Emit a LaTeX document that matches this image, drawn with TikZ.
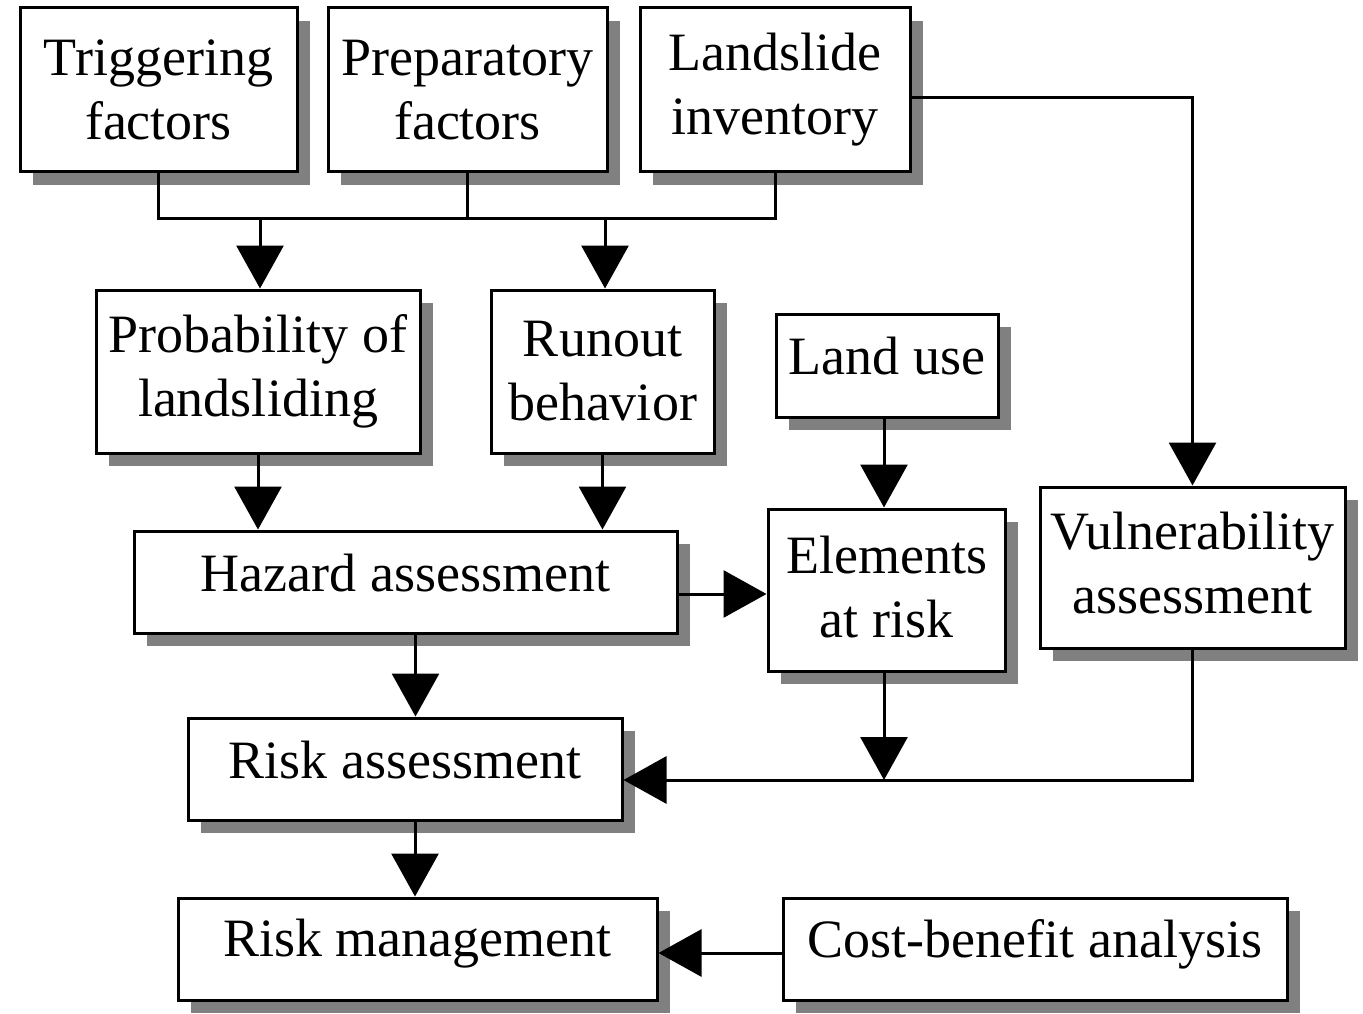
\documentclass[tikz,border=0pt]{standalone}
\usepackage{fontspec}
\setmainfont{Liberation Serif}
\usetikzlibrary{arrows.meta,shadows}
\newcommand\bigfs{\fontsize{54}{64}\selectfont}
\newcommand\liftup[2]{\raisebox{#1}[\height][\depth]{#2}}
\begin{document}
\begin{tikzpicture}[x=1pt,y=-1pt,
  box/.style={draw, line width=3pt, fill=white, align=center, inner sep=0pt, font=\bigfs,
    drop shadow={shadow xshift=13pt, shadow yshift=-13pt, fill=black!50, opacity=1}},
  conn/.style={line width=3pt},
  arr/.style={line width=3pt, -{Triangle[length=43pt 0 0,width=47pt 0]}}]
\fill[white] (0,0) rectangle (1363,1014);
\useasboundingbox (0,0) rectangle (1363,1014);
\node[box, minimum width=277pt, minimum height=164pt] (trig) at (158.5,90) {Triggering\\factors};
\node[box, minimum width=279pt, minimum height=164pt] (prep) at (467.5,90) {Preparatory\\factors};
\node[box, minimum width=270pt, minimum height=164pt] (inv) at (775,90) {Landslide\\inventory};
\node[box, minimum width=324pt, minimum height=163pt] (prob) at (258,371.5) {Probability of\\landsliding};
\node[box, minimum width=223pt, minimum height=163pt] (run) at (602.5,371.5) {Runout\\behavior};
\node[box, minimum width=222pt, minimum height=103pt] (land) at (887,365.5) {\liftup{9pt}{Land use}};
\node[box, minimum width=543pt, minimum height=102pt] (haz) at (405.5,582) {\liftup{9pt}{Hazard assessment}};
\node[box, minimum width=237pt, minimum height=162pt] (elem) at (886.5,590) {\liftup{3pt}{Elements}\\\liftup{3pt}{at risk}};
\node[box, minimum width=305pt, minimum height=161pt] (vul) at (1192.5,567.5) {\liftup{4pt}{Vulnerability}\\\liftup{4pt}{assessment}};
\node[box, minimum width=434pt, minimum height=102pt] (risk) at (405,769) {\liftup{9pt}{Risk assessment}};
\node[box, minimum width=479pt, minimum height=102pt] (mgmt) at (417.5,949) {\liftup{5pt}{Risk management}};
\node[box, minimum width=504pt, minimum height=102pt] (cost) at (1035,949) {\liftup{5pt}{Cost-benefit analysis}};
% bus
\coordinate (j1) at (260,218);
\coordinate (j2) at (605,218);
\coordinate (bj) at (884,780);
\draw[conn] (trig.south) -- (trig.south |- j1) -| (inv.south);
\draw[conn] (prep.south) -- (prep.south |- j1);
\draw[arr] (j1) -- (j1 |- prob.north);
\draw[arr] (j2) -- (j2 |- run.north);
\draw[arr] ([yshift=-8pt]inv.east) -| (vul.north);
\draw[arr] (prob.south) -- (prob.south |- haz.north);
\draw[arr] (run.south) -- (run.south |- haz.north);
\draw[arr] ([xshift=-3pt]land.south) -- ([xshift=-3pt]land.south |- elem.north);
\draw[arr] ([yshift=-4pt]haz.east |- elem.west) -- ([yshift=-4pt]elem.west);
\draw[arr] ([xshift=10pt]haz.south) -- ([xshift=10pt]haz.south |- risk.north);
\draw[arr] (bj |- elem.south) -- (bj);
\draw[arr] (vul.south) -- (vul.south |- bj) -- (risk.east |- bj);
\draw[arr] ([xshift=10pt]risk.south) -- ([xshift=10pt]risk.south |- mgmt.north);
\draw[arr] ([yshift=-4pt]cost.west) -- ([yshift=-4pt]mgmt.east);
\end{tikzpicture}
\end{document}
